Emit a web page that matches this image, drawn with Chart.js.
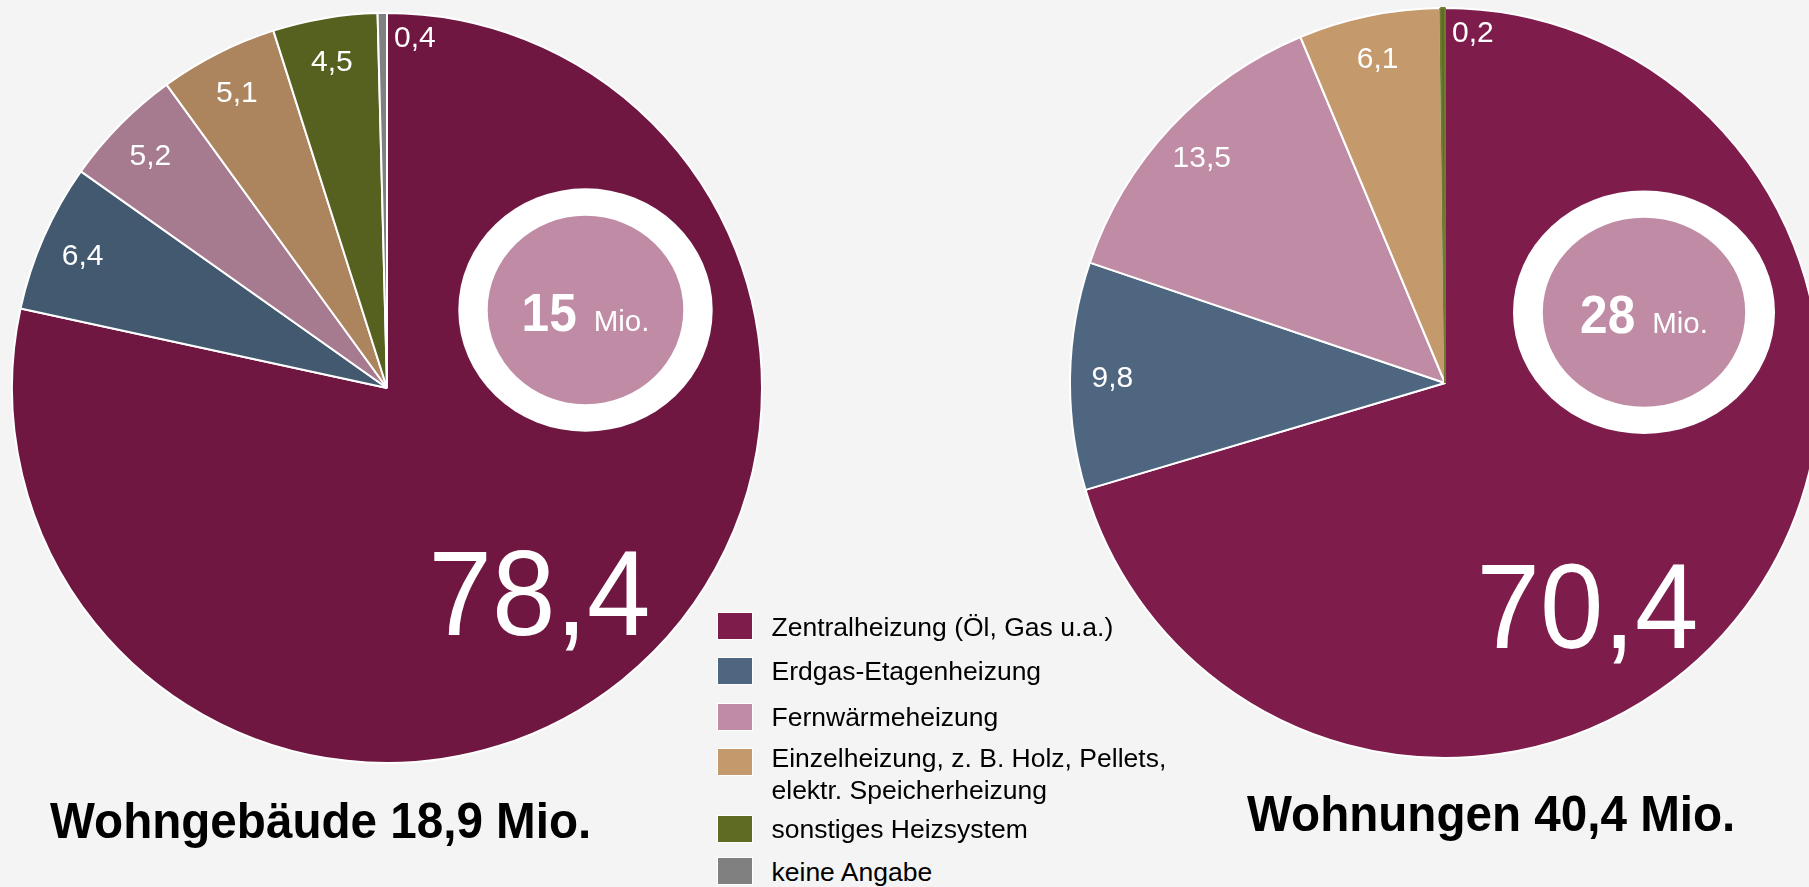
<!DOCTYPE html>
<html>
<head>
<meta charset="utf-8">
<script src="https://cdn.jsdelivr.net/npm/chart.js@4/dist/chart.umd.min.js"></script>
<style>
html,body{margin:0;padding:0;width:1809px;height:887px;overflow:hidden;background:#f4f4f4;font-family:"Liberation Sans",Arial,Helvetica,sans-serif;}
canvas{position:absolute;}
#c1{left:11px;top:12px;}
#c2{left:1069px;top:7px;}
.title{position:absolute;font-weight:bold;font-size:50px;line-height:50px;color:#000;white-space:nowrap;transform-origin:0 0;transform:scaleX(0.952);}
#legend{position:absolute;left:717px;top:0;}
.item{position:absolute;left:0;white-space:nowrap;}
.sw{position:absolute;left:0;top:0;width:36px;height:28px;box-sizing:border-box;border:1px solid #fff;}
.lt{position:absolute;left:54.5px;font-size:26.5px;line-height:31.7px;color:#000;white-space:pre;}
</style>
</head>
<body>
<canvas id="c1" width="752" height="752"></canvas>
<canvas id="c2" width="752" height="752"></canvas>
<div class="title" style="left:50px;top:796px;">Wohngebäude 18,9 Mio.</div>
<div class="title" style="left:1246.7px;top:789.4px;">Wohnungen 40,4 Mio.</div>
<div id="legend"></div>
<script>
// ---- data ----
const CATEGORIES = [
  'Zentralheizung (Öl, Gas u.a.)',
  'Erdgas-Etagenheizung',
  'Fernwärmeheizung',
  'Einzelheizung, z. B. Holz, Pellets,\nelektr. Speicherheizung',
  'sonstiges Heizsystem',
  'keine Angabe'
];
const WOHNGEBAEUDE = [78.4, 6.4, 5.2, 5.1, 4.5, 0.4];
const WOHNUNGEN = [70.4, 9.8, 13.5, 6.1, 0.2, 0];
const TITLE_LEFT = 'Wohngebäude 18,9 Mio.';
const TITLE_RIGHT = 'Wohnungen 40,4 Mio.';
const BADGE_LEFT = '15';
const BADGE_RIGHT = '28';
const BADGE_UNIT = 'Mio.';

// ---- styles ----
const COLORS_LEFT = ['#6F1740', '#43596F', '#A67B90', '#AC855F', '#566120', '#808080'];
const COLORS_RIGHT = ['#7E1C4B', '#4F6680', '#BF8BA5', '#C4996C', '#5F6B22', '#808080'];
const COLORS_LEGEND = ['#7E1C4B', '#4F6680', '#BF8BA5', '#C4996C', '#5F6B22', '#808080'];
const LEGEND_ROW_TOPS = [612.3, 657.3, 702.7, 747.7, 815.3, 857.3];
const LEGEND_TEXT_SHIFT = [-0.5, -1, -1, -4.5, -1, -0.5];

const FONT = '"Liberation Sans", Arial, Helvetica, sans-serif';
const fmt = v => v.toFixed(1).replace('.', ',');

const pieDecor = {
  id: 'pieDecor',
  afterDatasetsDraw(chart, args, o) {
    const ctx = chart.ctx;
    const meta = chart.getDatasetMeta(0);
    const data = chart.data.datasets[0].data;
    const total = data.reduce((a, b) => a + b, 0);
    let maxI = 0;
    data.forEach((v, i) => { if (v > data[maxI]) maxI = i; });
    ctx.save();
    ctx.fillStyle = '#fff';
    let cx0 = 0, cy0 = 0, R = 0;
    meta.data.forEach((arc, i) => {
      const v = data[i];
      const p = arc.getProps(['x', 'y', 'startAngle', 'endAngle', 'outerRadius'], true);
      cx0 = p.x; cy0 = p.y; R = p.outerRadius;
      if (!v) return;
      const txt = fmt(v);
      if (i === maxI) {
        const a = o.mainAngle * Math.PI / 180 - Math.PI / 2;
        const lx = p.x + Math.cos(a) * R * o.mainR;
        const ly = p.y + Math.sin(a) * R * o.mainR;
        ctx.save();
        ctx.font = '120px ' + FONT;
        ctx.textAlign = 'center';
        ctx.textBaseline = 'alphabetic';
        ctx.translate(lx, ly + 0.358 * 120);
        ctx.scale(0.95, 1);
        ctx.fillText(txt, 0, 0);
        ctx.restore();
      } else if (v / total < 0.01) {
        const a = p.endAngle;
        const lx = p.x + Math.cos(a) * R * 0.939 + 7;
        const ly = p.y + Math.sin(a) * R * 0.939;
        ctx.font = '30px ' + FONT;
        ctx.textAlign = 'left';
        ctx.textBaseline = 'alphabetic';
        ctx.fillText(txt, lx, ly + 0.358 * 30);
      } else {
        const a = (p.startAngle + p.endAngle) / 2;
        const lx = p.x + Math.cos(a) * R * o.labelR;
        const ly = p.y + Math.sin(a) * R * o.labelR;
        ctx.font = '30px ' + FONT;
        ctx.textAlign = 'center';
        ctx.textBaseline = 'alphabetic';
        ctx.fillText(txt, lx, ly + 0.358 * 30);
      }
    });
    // badge
    const b = o.badge;
    const bx = cx0 + b.dx, by = cy0 + b.dy;
    ctx.beginPath();
    ctx.ellipse(bx, by, b.orx, b.ory, 0, 0, Math.PI * 2);
    ctx.fillStyle = '#ffffff';
    ctx.fill();
    ctx.beginPath();
    ctx.ellipse(bx, by, b.irx, b.iry, 0, 0, Math.PI * 2);
    ctx.fillStyle = '#BF8BA5';
    ctx.fill();
    ctx.fillStyle = '#fff';
    ctx.textBaseline = 'alphabetic';
    ctx.textAlign = 'left';
    ctx.font = 'bold 53px ' + FONT;
    const wNum = ctx.measureText(b.text).width * 0.935;
    ctx.font = '29.5px ' + FONT;
    const wUnit = ctx.measureText(BADGE_UNIT).width;
    const gap = 17;
    const sx = bx - (wNum + gap + wUnit) / 2;
    const base = by + 20.7;
    ctx.save();
    ctx.font = 'bold 53px ' + FONT;
    ctx.translate(sx, base);
    ctx.scale(0.935, 1);
    ctx.fillText(b.text, 0, 0);
    ctx.restore();
    ctx.font = '29.5px ' + FONT;
    ctx.fillText(BADGE_UNIT, sx + wNum + gap, base);
    ctx.restore();
  }
};

function makePie(id, values, colors, borderColors, opts) {
  return new Chart(document.getElementById(id), {
    type: 'pie',
    data: {
      labels: CATEGORIES,
      datasets: [{
        data: values,
        backgroundColor: colors,
        borderColor: borderColors,
        borderWidth: 2
      }]
    },
    options: {
      responsive: false,
      animation: false,
      events: [],
      layout: { padding: 0 },
      plugins: {
        legend: { display: false },
        tooltip: { enabled: false },
        pieDecor: opts
      }
    },
    plugins: [pieDecor]
  });
}

makePie('c1', WOHNGEBAEUDE, COLORS_LEFT,
  ['#fff', '#fff', '#fff', '#fff', '#fff', '#fff'],
  { mainAngle: 143.2, mainR: 0.679, labelR: 0.887,
    badge: { dx: 198.5, dy: -78, orx: 127.2, ory: 121.7, irx: 97.8, iry: 94.2, text: BADGE_LEFT } });

makePie('c2', WOHNUNGEN, COLORS_RIGHT,
  ['#fff', '#fff', '#fff', '#fff', '#6E7B30', '#fff'],
  { mainAngle: 147.3, mainR: 0.703, labelR: 0.887,
    badge: { dx: 199, dy: -70.8, orx: 131, ory: 121.7, irx: 101.2, iry: 94.5, text: BADGE_RIGHT } });

// legend
const legend = document.getElementById('legend');
CATEGORIES.forEach((c, i) => {
  const item = document.createElement('div');
  item.className = 'item';
  item.style.top = LEGEND_ROW_TOPS[i] + 'px';
  const sw = document.createElement('div');
  sw.className = 'sw';
  sw.style.background = COLORS_LEGEND[i];
  const t = document.createElement('div');
  t.className = 'lt';
  t.style.top = LEGEND_TEXT_SHIFT[i] + 'px';
  t.textContent = c;
  item.appendChild(sw);
  item.appendChild(t);
  legend.appendChild(item);
});
</script>
</body>
</html>
